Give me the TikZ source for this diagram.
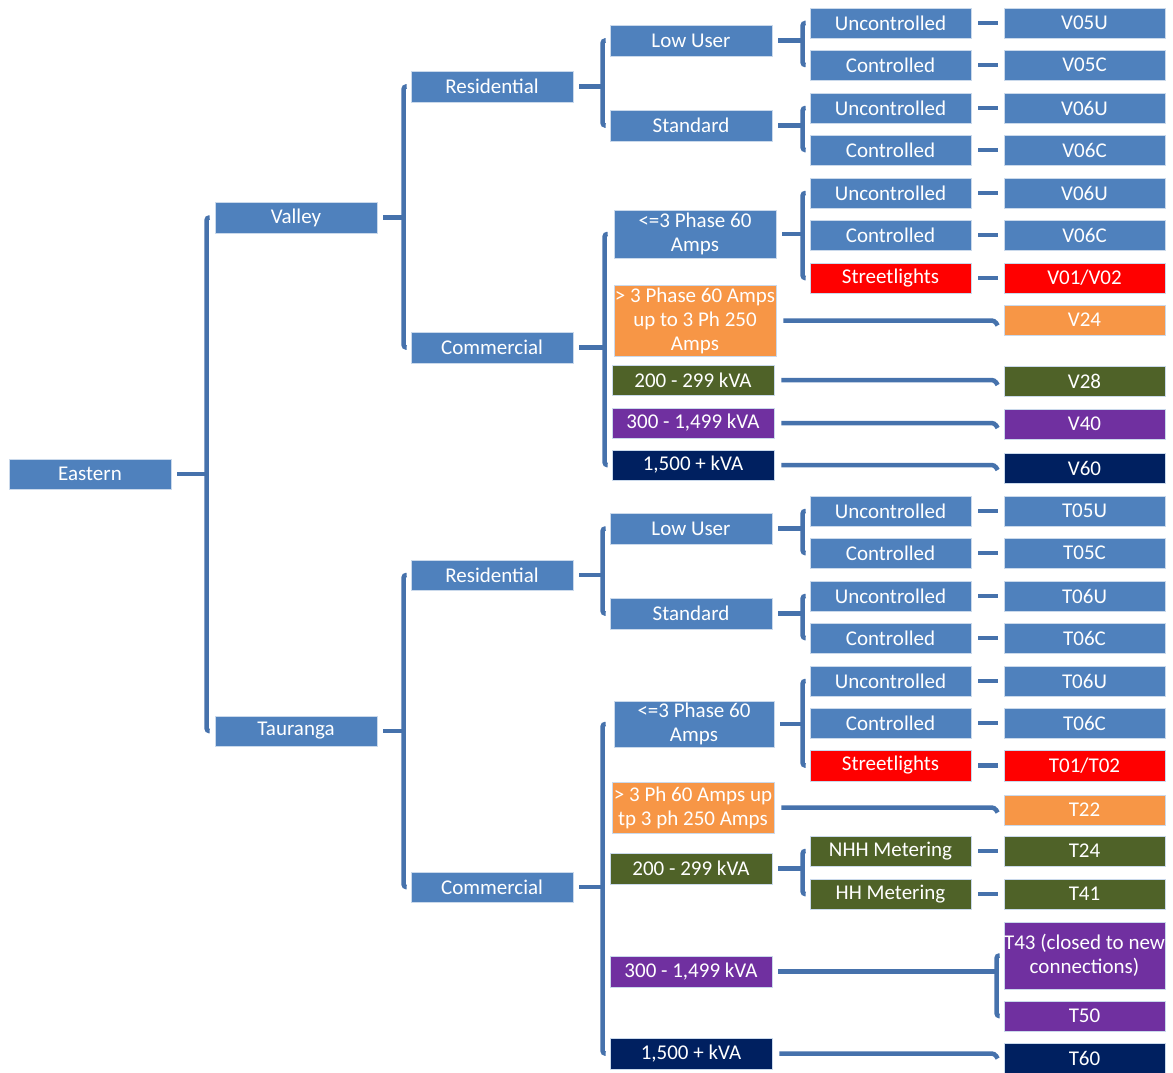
\documentclass[tikz,border=0pt]{standalone}
\usepackage{fontspec}
\setmainfont{Carlito}
\usetikzlibrary{calc}
\definecolor{cblue}{HTML}{4F81BD}
\definecolor{cline}{HTML}{4672AC}
\definecolor{cred}{HTML}{FF0000}
\definecolor{corange}{HTML}{F79646}
\definecolor{cgreen}{HTML}{4F6228}
\definecolor{cpurple}{HTML}{7030A0}
\definecolor{cnavy}{HTML}{002060}
\newcommand\bx[7]{\node[box,fill=#6,minimum width={(#4-#2)*1pt},minimum height={(#5-#3)*1pt}] (#1) at ({(#2+#4)/2},{(#3+#5)/2}) {#7};}
\newcommand\brk[3]{\draw[brk] ($(#1 |- #2)+(3,0)$) -- (#1 |- #2) -- (#1 |- #3) -- ($(#1 |- #3)+(3,0)$);}
\newcommand\stub[2]{\draw[conn] ([xshift=6pt]#1.east) -- (#1.east -| #2);}
\newcommand\dsh[2]{\draw[conn] ([xshift=7pt]#1.east) -- ($(#1.east -| #2.west)+(-6,0)$);}
\newcommand\elb[2]{\draw[conn,rounded corners=3pt] ([xshift=7pt]#1.east) -- ($(#1.east -| #2.west)+(-9,0)$) -- ($(#1.east -| #2.west)+(-6,5)$);}
\begin{document}
\begin{tikzpicture}[x=1pt,y=-1pt,
  box/.style={draw=white!70!cblue,line width=0.7pt,text=white,inner sep=0pt,align=center,font=\fontsize{21}{24}\selectfont},
  conn/.style={draw=cline,line width=4.5pt},
  brk/.style={conn,rounded corners=2.5pt}]
\useasboundingbox (0,0) rectangle (1173,1073);
% level 1-3
\bx{eastern}{9}{459}{171}{489}{cblue}{Eastern}
\bx{valley}{215}{202}{377}{233}{cblue}{Valley}
\bx{tauranga}{215}{716}{377}{746}{cblue}{Tauranga}
\bx{vres}{411}{71}{573}{102}{cblue}{Residential}
\bx{vcom}{411}{332}{573}{363}{cblue}{Commercial}
\bx{tres}{411}{560}{573}{590}{cblue}{Residential}
\bx{tcom}{411}{872}{573}{902}{cblue}{Commercial}
% Valley level 4
\bx{vlow}{610}{25}{772}{56}{cblue}{Low User}
\bx{vstd}{610}{110}{772}{141}{cblue}{Standard}
\bx{vpa}{614}{210}{776}{258}{cblue}{<=3 Phase 60\\Amps}
\bx{vpb}{614}{285}{776}{356}{corange}{> 3 Phase 60 Amps\\up to 3 Ph 250\\Amps}
\bx{vpc}{612}{365}{774}{395}{cgreen}{200 - 299 kVA}
\bx{vpd}{612}{408}{774}{438}{cpurple}{300 - 1,499 kVA}
\bx{vpe}{612}{450}{774}{480}{cnavy}{1,500 + kVA}
% Valley level 5
\bx{vua}{810}{8}{971}{38}{cblue}{Uncontrolled}
\bx{vca}{810}{50}{971}{80}{cblue}{Controlled}
\bx{vub}{810}{93}{971}{123}{cblue}{Uncontrolled}
\bx{vcb}{810}{135}{971}{165}{cblue}{Controlled}
\bx{vuc}{810}{178}{971}{208}{cblue}{Uncontrolled}
\bx{vcc}{810}{220}{971}{250}{cblue}{Controlled}
\bx{vsl}{810}{263}{971}{293}{cred}{Streetlights}
% Valley tariffs
\bx{ra}{1004}{8}{1165}{38}{cblue}{V05U}
\bx{rb}{1004}{50}{1165}{80}{cblue}{V05C}
\bx{rc}{1004}{93}{1165}{123}{cblue}{V06U}
\bx{rd}{1004}{135}{1165}{165}{cblue}{V06C}
\bx{re}{1004}{178}{1165}{208}{cblue}{V06U}
\bx{rf}{1004}{220}{1165}{250}{cblue}{V06C}
\bx{rg}{1004}{263}{1165}{293}{cred}{V01/V02}
\bx{rh}{1004}{305}{1165}{335}{corange}{V24}
\bx{ri}{1004}{366}{1165}{396}{cgreen}{V28}
\bx{rj}{1004}{409}{1165}{439}{cpurple}{V40}
\bx{rk}{1004}{453}{1165}{483}{cnavy}{V60}
% Tauranga level 4
\bx{tlow}{610}{513}{772}{544}{cblue}{Low User}
\bx{tstd}{610}{598}{772}{629}{cblue}{Standard}
\bx{tpa}{614}{701}{774}{747}{cblue}{<=3 Phase 60\\Amps}
\bx{tpb}{612}{782}{774}{833}{corange}{> 3 Ph 60 Amps up\\tp 3 ph 250 Amps}
\bx{tpc}{610}{853}{772}{884}{cgreen}{200 - 299 kVA}
\bx{tpd}{610}{956}{772}{987}{cpurple}{300 - 1,499 kVA}
\bx{tpe}{610}{1038}{772}{1069}{cnavy}{1,500 + kVA}
% Tauranga level 5
\bx{tua}{810}{496}{971}{526}{cblue}{Uncontrolled}
\bx{tca}{810}{538}{971}{568}{cblue}{Controlled}
\bx{tub}{810}{581}{971}{611}{cblue}{Uncontrolled}
\bx{tcb}{810}{623}{971}{653}{cblue}{Controlled}
\bx{tuc}{810}{666}{971}{696}{cblue}{Uncontrolled}
\bx{tcc}{810}{708}{971}{738}{cblue}{Controlled}
\bx{tsl}{810}{750}{971}{781}{cred}{Streetlights}
\bx{tnhh}{810}{836}{971}{866}{cgreen}{NHH Metering}
\bx{thh}{810}{879}{971}{909}{cgreen}{HH Metering}
% Tauranga tariffs
\bx{sa}{1004}{496}{1165}{526}{cblue}{T05U}
\bx{sb}{1004}{538}{1165}{568}{cblue}{T05C}
\bx{sc}{1004}{581}{1165}{611}{cblue}{T06U}
\bx{sd}{1004}{623}{1165}{653}{cblue}{T06C}
\bx{se}{1004}{666}{1165}{696}{cblue}{T06U}
\bx{sf}{1004}{708}{1165}{738}{cblue}{T06C}
\bx{sg}{1004}{750}{1165}{781}{cred}{T01/T02}
\bx{sh}{1004}{795}{1165}{825}{corange}{T22}
\bx{si}{1004}{836}{1165}{866}{cgreen}{T24}
\bx{sj}{1004}{879}{1165}{909}{cgreen}{T41}
\bx{sk}{1004}{922}{1165}{989}{cpurple}{T43 (closed to new\\connections)}
\bx{sl}{1004}{1001}{1165}{1031}{cpurple}{T50}
\bx{sm}{1004}{1043}{1165}{1073}{cnavy}{T60}
% bracket coordinates
\coordinate (bE) at ([xshift=-8pt]valley.west);
\coordinate (bV) at ([xshift=-7pt]vres.west);
\coordinate (bT) at ([xshift=-7pt]tres.west);
\coordinate (bVR) at ([xshift=-7pt]vlow.west);
\coordinate (bTR) at ([xshift=-7pt]tlow.west);
\coordinate (bVC) at ([xshift=-7pt]vpc.west);
\coordinate (bTC) at ([xshift=-7pt]tpc.west);
\coordinate (bVL) at ([xshift=-7pt]vua.west);
\coordinate (bVS) at ([xshift=-7pt]vub.west);
\coordinate (bVP) at ([xshift=-7pt]vuc.west);
\coordinate (bTL) at ([xshift=-7pt]tua.west);
\coordinate (bTS) at ([xshift=-7pt]tub.west);
\coordinate (bTP) at ([xshift=-7pt]tuc.west);
\coordinate (bTK) at ([xshift=-7pt]tnhh.west);
\coordinate (bTD) at ([xshift=-7pt]sk.west);
% stubs and brackets
\stub{eastern}{bE} \brk{bE}{valley}{tauranga}
\stub{valley}{bV} \brk{bV}{vres}{vcom}
\stub{tauranga}{bT} \brk{bT}{tres}{tcom}
\stub{vres}{bVR} \brk{bVR}{vlow}{vstd}
\stub{tres}{bTR} \brk{bTR}{tlow}{tstd}
\stub{vcom}{bVC} \brk{bVC}{vpa}{vpe}
\stub{tcom}{bTC} \brk{bTC}{tpa}{tpe}
\stub{vlow}{bVL} \brk{bVL}{vua}{vca}
\stub{vstd}{bVS} \brk{bVS}{vub}{vcb}
\stub{vpa}{bVP} \brk{bVP}{vuc}{vsl}
\stub{tlow}{bTL} \brk{bTL}{tua}{tca}
\stub{tstd}{bTS} \brk{bTS}{tub}{tcb}
\stub{tpa}{bTP} \brk{bTP}{tuc}{tsl}
\stub{tpc}{bTK} \brk{bTK}{tnhh}{thh}
\stub{tpd}{bTD} \brk{bTD}{sk}{sl}
% dashes
\dsh{vua}{ra} \dsh{vca}{rb} \dsh{vub}{rc} \dsh{vcb}{rd}
\dsh{vuc}{re} \dsh{vcc}{rf} \dsh{vsl}{rg}
\dsh{tua}{sa} \dsh{tca}{sb} \dsh{tub}{sc} \dsh{tcb}{sd}
\dsh{tuc}{se} \dsh{tcc}{sf} \dsh{tsl}{sg}
\dsh{tnhh}{si} \dsh{thh}{sj}
% long elbows
\elb{vpb}{rh} \elb{vpc}{ri} \elb{vpd}{rj} \elb{vpe}{rk}
\elb{tpb}{sh} \elb{tpe}{sm}
\end{tikzpicture}
\end{document}
